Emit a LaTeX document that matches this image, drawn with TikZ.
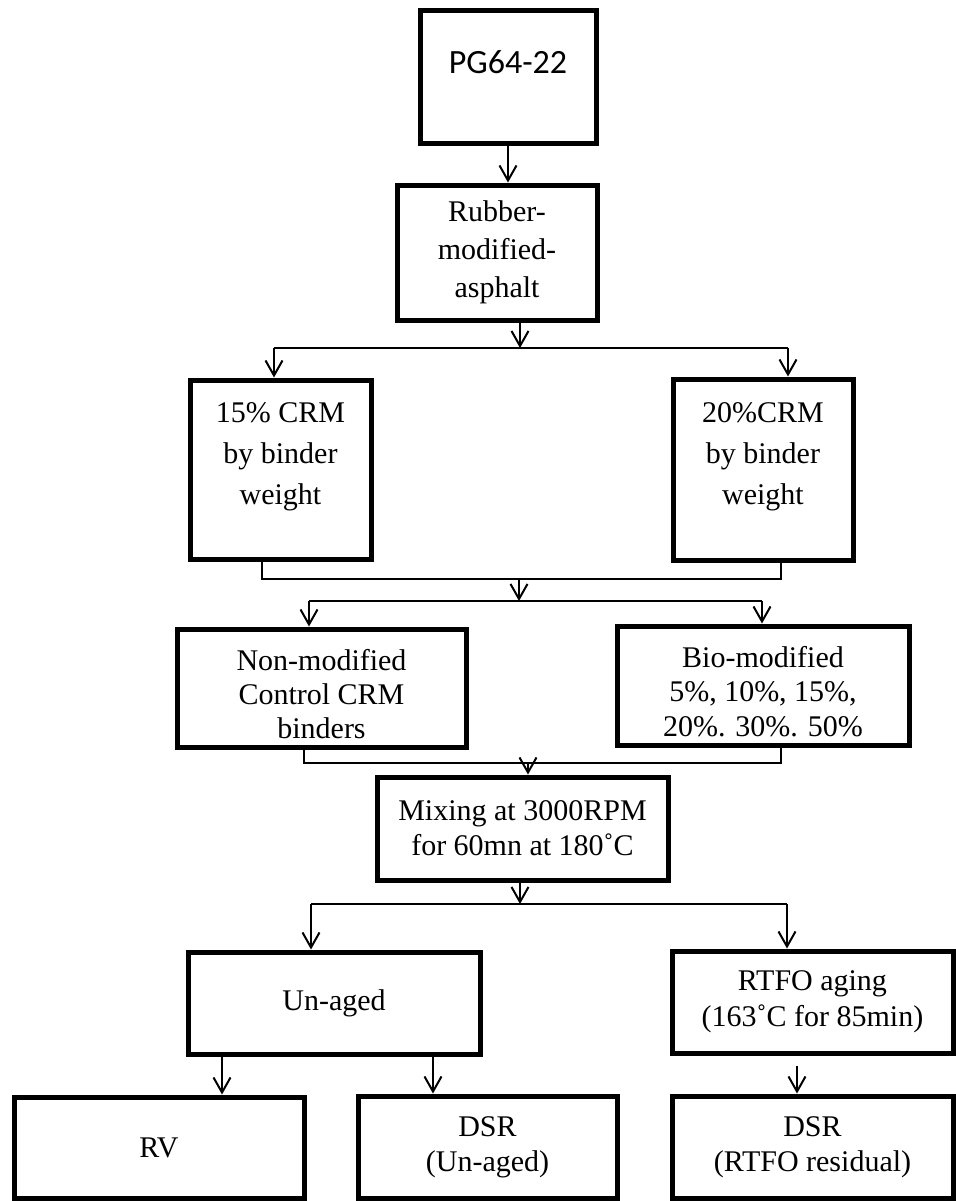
\documentclass[tikz,border=0pt]{standalone}
\usepackage{fontspec}
\setmainfont{Liberation Serif}
\newfontfamily\pgfont{Carlito}
\usetikzlibrary{arrows.meta}
\tikzset{
    %Define standard arrow tip
    >={Straight Barb[length=7.5pt,width=8.5pt]},
    %Define style for boxes
    stage/.style={
           rectangle,
           draw=black, line width=2.5pt,
           inner sep=0pt,
           align=center,
           font=\fontsize{15}{17.5}\selectfont,
           },
    % Define style for plain connectors
    link/.style={
           line width=1pt,},
    % Define arrow style
    pil/.style={
           ->,
           line width=1pt,},
}

\begin{document}
\begin{tikzpicture}[x=0.5pt,y=-0.5pt]
\useasboundingbox (0,0) rectangle (956,1201);
\node[stage, font=\pgfont\fontsize{17}{20}\selectfont, text depth=14.5pt, minimum width=88pt, minimum height=66.5pt](pg) at (508,76.5){PG64-22};
\node[stage, font=\fontsize{15}{19}\selectfont, minimum width=100pt, minimum height=67.5pt](rub) at (497,252.5){Rubber-\\modified-\\asphalt};
\node[stage, font=\fontsize{15}{20.5}\selectfont, text depth=15.8pt, minimum width=90.5pt, minimum height=89.5pt](c15) at (280.5,469.5){15\% CRM\\by binder\\weight};
\node[stage, font=\fontsize{15}{20.5}\selectfont, text depth=15.8pt, minimum width=90pt, minimum height=90.5pt](c20) at (763,469.5){20\%CRM\\by binder\\weight};
\node[stage, font=\fontsize{15}{17}\selectfont, minimum width=144.5pt, minimum height=59pt](nonmod) at (321.5,688){\rule{0pt}{16.3pt}Non-modified\\Control CRM\\binders};
\node[stage, minimum width=146pt, minimum height=59.5pt](bio) at (763,685.5){\rule{0pt}{16.7pt}Bio-modified\\5\%, 10\%, 15\%,\\20\%. 30\%. 50\%};
\node[stage, minimum width=145.5pt, minimum height=51.5pt](mix) at (522.5,828.5){Mixing at 3000RPM\\for 60mn at 180˚C};
\node[stage, minimum width=146pt, minimum height=51pt](unaged) at (334,1003){Un-aged};
\node[stage, font=\fontsize{15}{18}\selectfont, minimum width=140.5pt, minimum height=51pt](rtfo) at (812.5,1002){RTFO aging\\(163˚C for 85min)};
\node[stage, minimum width=145pt, minimum height=50.5pt](rv) at (159,1147.5){RV};
\node[stage, minimum width=129.5pt, minimum height=51pt](dsr1) at (487.5,1147){DSR\\(Un-aged)};
\node[stage, minimum width=140.5pt, minimum height=51pt](dsr2) at (812.5,1147){DSR\\(RTFO residual)};
% split and merge points
\coordinate (s1) at (520,348);
\coordinate (s1l) at (274,348);
\coordinate (s1r) at (788,348);
\coordinate (m1) at (519,579);
\coordinate (m1l) at (262,579);
\coordinate (m1r) at (781,579);
\coordinate (s2) at (519,601);
\coordinate (s2l) at (309,601);
\coordinate (s2r) at (762,601);
\coordinate (m2) at (528,763);
\coordinate (m2l) at (304,763);
\coordinate (m2r) at (781,763);
\coordinate (s3) at (520,904);
\coordinate (s3l) at (311,904);
\coordinate (s3r) at (787,904);
\draw[pil] (pg.south) -- (pg.south |- rub.north);
\draw[pil] (rub.south -| s1) -- (s1);
\draw[link] (s1l) -- (s1r);
\draw[pil] (s1l) -- (s1l |- c15.north);
\draw[pil] (s1r) -- (s1r |- c20.north);
\draw[link] (c15.south -| m1l) -- (m1l) -- (m1r) -- (c20.south -| m1r);
\draw[pil] (m1) -- (s2);
\draw[link] (s2l) -- (s2r);
\draw[pil] (s2l) -- (s2l |- nonmod.north);
\draw[pil] (s2r) -- (s2r |- bio.north);
\draw[link] (nonmod.south -| m2l) -- (m2l) -- (m2r) -- (bio.south -| m2r);
\draw[pil] (m2) -- (m2 |- mix.north);
\draw[pil] (mix.south -| s3) -- (s3);
\draw[link] (s3l) -- (s3r);
\draw[pil] (s3l) -- (s3l |- unaged.north);
\draw[pil] (s3r) -- (s3r |- rtfo.north);
\draw[pil] ([xshift=31.5pt]rv.north |- unaged.south) -- ([xshift=31.5pt]rv.north);
\draw[pil] ([xshift=-27.25pt]dsr1.north |- unaged.south) -- ([xshift=-27.25pt]dsr1.north);
\draw[pil] ([xshift=-7.75pt,yshift=-5pt]rtfo.south) -- ([xshift=-7.75pt]dsr2.north);
\end{tikzpicture}
\end{document}
